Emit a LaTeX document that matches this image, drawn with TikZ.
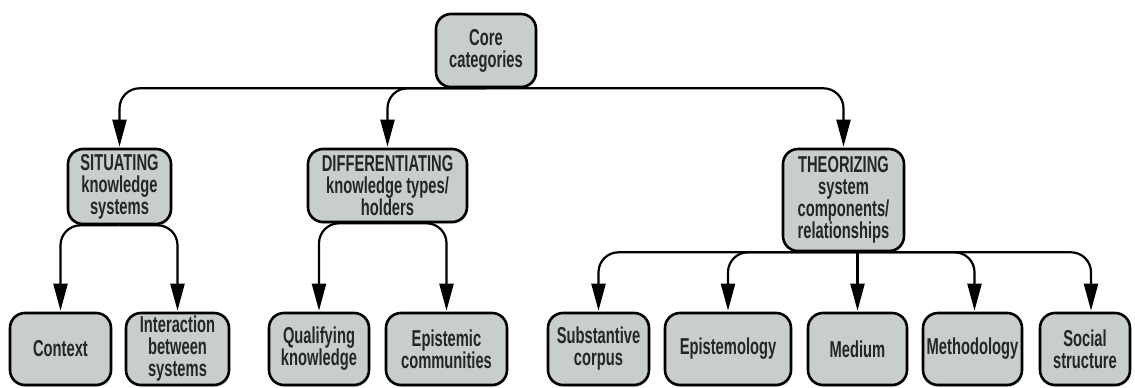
\documentclass[tikz,border=0pt]{standalone}
\usepackage{fontspec}
\setmainfont{Liberation Sans}[FakeStretch=0.64]
\usepackage{tikz}
\usetikzlibrary{arrows.meta,shadows}
\definecolor{boxgray}{RGB}{200,205,205}

\begin{document}
\begin{tikzpicture}[x=1pt, y=-1pt,
    cat/.style={draw, line width=2.6pt, rounded corners=15pt, fill=boxgray, align=center,
      font=\fontsize{23}{22}\selectfont\bfseries, text=black!85, inner sep=1pt,
      drop shadow={shadow xshift=1pt, shadow yshift=-2pt, opacity=.25}},
    leaf/.style={cat, minimum height=72pt},
    link/.style={line width=2.2pt, rounded corners=20pt, -{Triangle[length=27pt,width=14pt]}, shorten >=1pt}]
  \useasboundingbox (0,0) rectangle (1135,388);
  \node[cat, minimum width=100pt, minimum height=73pt] (core) at (486,50.5) {Core\\categories};
  \node[cat, minimum width=103pt, minimum height=75pt] (sit) at (119.5,186.5) {SITUATING\\knowledge\\systems};
  \node[cat, minimum width=159pt, minimum height=73pt] (diff) at (387.5,185.5) {DIFFERENTIATING\\knowledge types/\\holders};
  \node[cat, minimum width=121pt, minimum height=102pt] (theo) at (843.5,200) {THEORIZING\\system\\components/\\relationships};
  \node[leaf, minimum width=101pt] (ctx) at (60.5,349) {Context};
  \node[leaf, minimum width=103pt] (inter) at (177.5,349) {Interaction\\between\\systems};
  \node[leaf, minimum width=100pt] (qual) at (319,349) {Qualifying\\knowledge};
  \node[leaf, minimum width=121pt] (epcom) at (446.5,349) {Epistemic\\communities};
  \node[leaf, minimum width=101pt] (subst) at (598.5,349) {Substantive\\corpus};
  \node[leaf, minimum width=126pt] (epist) at (728,349) {Epistemology};
  \node[leaf, minimum width=99pt] (med) at (857.5,349) {Medium};
  \node[leaf, minimum width=99pt] (meth) at (972.5,349) {Methodology};
  \node[leaf, minimum width=90pt] (soc) at (1085,349) {Social\\structure};
  \draw[link] (core.south) -| (sit.north);
  \draw[link] (core.south) -| (diff.north);
  \draw[link] (core.south) -| (theo.north);
  \draw[link] (sit.south) -| (ctx.north);
  \draw[link] (sit.south) -| (inter.north);
  \draw[link] (diff.south) -| (qual.north);
  \draw[link] (diff.south) -| (epcom.north);
  \draw[link] (theo.south) -| (subst.north);
  \draw[link] (theo.south) -| (epist.north);
  \draw[link] (theo.south -| med.north) -- (med.north);
  \draw[link] (theo.south) -| ([xshift=2pt]meth.north);
  \draw[link] (theo.south) -| ([xshift=6pt]soc.north);
\end{tikzpicture}
\end{document}
